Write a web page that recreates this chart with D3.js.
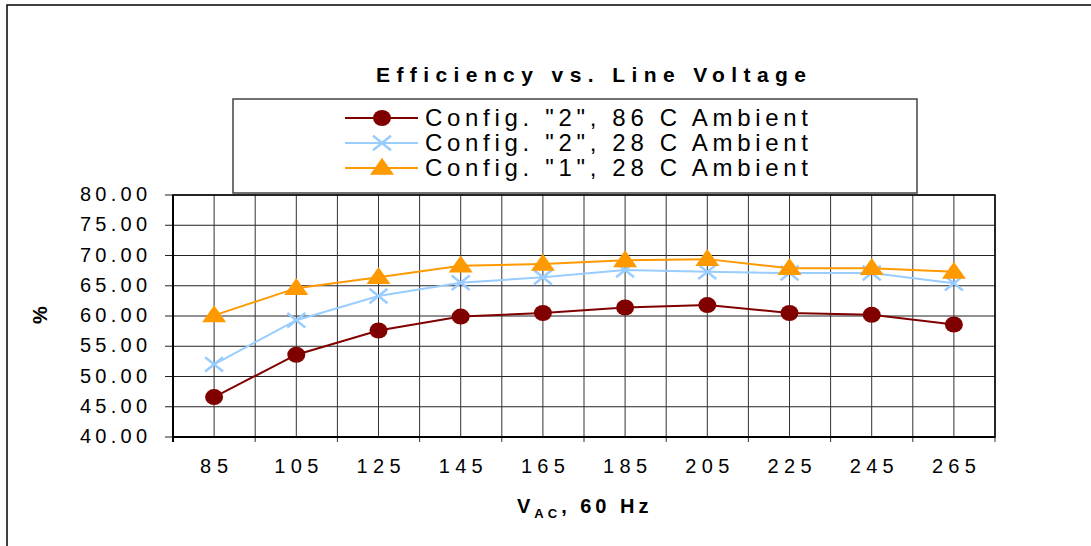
<!DOCTYPE html>
<html>
<head>
<meta charset="utf-8">
<script src="https://cdn.jsdelivr.net/npm/d3@7"></script>
<style>
  body { margin: 0; background: #fff; }
  svg { display: block; font-family: Arial, "Liberation Sans", sans-serif; }
</style>
</head>
<body>
<div id="chart"></div>
<script>
const voltages = ["85", "105", "125", "145", "165", "185", "205", "225", "245", "265"];
const cfg2Hot  = [46.6, 53.6, 57.6, 59.9, 60.5, 61.4, 61.8, 60.5, 60.2, 58.6];
const cfg2Room = [52.0, 59.3, 63.3, 65.5, 66.4, 67.6, 67.3, 67.1, 67.1, 65.4];
const cfg1Room = [60.1, 64.6, 66.4, 68.3, 68.6, 69.2, 69.4, 67.9, 67.9, 67.3];
const yTicks = [40, 45, 50, 55, 60, 65, 70, 75, 80];
const seriesNames = ['Config. "2", 86 C Ambient', 'Config. "2", 28 C Ambient', 'Config. "1", 28 C Ambient'];

const width = 1091, height = 546;
const plot = { left: 173, top: 195, right: 995, bottom: 437 };

const svg = d3.select("#chart").append("svg")
  .attr("width", width)
  .attr("height", height);

// outer frame (only top and left edges visible)
svg.append("rect")
  .attr("x", 7).attr("y", 5)
  .attr("width", 1300).attr("height", 1000)
  .attr("fill", "none").attr("stroke", "#000").attr("stroke-width", 1.5);

const x = d3.scaleBand().domain(voltages).range([plot.left, plot.right]);
const cx = d => x(d) + x.bandwidth() / 2;
const y = d3.scaleLinear().domain([40, 80]).range([plot.bottom, plot.top]);

const g = svg.append("g");

// horizontal grid
g.selectAll(".hgrid").data(yTicks).enter().append("line")
  .attr("x1", plot.left - 8).attr("x2", plot.right)
  .attr("y1", d => y(d)).attr("y2", d => y(d))
  .attr("stroke", "#222").attr("stroke-width", 1);

// vertical grid: category centres and band edges
const edges = voltages.map(v => x(v)).concat([plot.right]);
g.selectAll(".vedge").data(edges).enter().append("line")
  .attr("x1", d => d).attr("x2", d => d)
  .attr("y1", plot.top).attr("y2", plot.bottom + 5)
  .attr("stroke", "#333").attr("stroke-width", 1);
g.selectAll(".vmid").data(voltages).enter().append("line")
  .attr("x1", d => cx(d)).attr("x2", d => cx(d))
  .attr("y1", plot.top).attr("y2", plot.bottom)
  .attr("stroke", "#333").attr("stroke-width", 1);

// plot frame
g.append("rect")
  .attr("x", plot.left).attr("y", plot.top)
  .attr("width", plot.right - plot.left).attr("height", plot.bottom - plot.top)
  .attr("fill", "none").attr("stroke", "#000").attr("stroke-width", 1.5);
g.append("line")
  .attr("x1", plot.left).attr("x2", plot.left)
  .attr("y1", plot.top).attr("y2", plot.bottom + 5)
  .attr("stroke", "#000").attr("stroke-width", 2);
g.append("line")
  .attr("x1", plot.left).attr("x2", plot.right)
  .attr("y1", plot.bottom).attr("y2", plot.bottom)
  .attr("stroke", "#000").attr("stroke-width", 2);

// y tick labels
svg.selectAll(".ylab").data(yTicks).enter().append("text")
  .attr("x", 147).attr("y", d => y(d) + 6)
  .attr("text-anchor", "end")
  .attr("font-size", 20)
  .attr("textLength", 67).attr("lengthAdjust", "spacing")
  .attr("fill", "#000")
  .text(d => d.toFixed(2));

// x tick labels
svg.selectAll(".xlab").data(voltages).enter().append("text")
  .attr("x", d => cx(d)).attr("y", 473)
  .attr("text-anchor", "middle")
  .attr("font-size", 20)
  .attr("textLength", d => d.length === 2 ? 28 : 44).attr("lengthAdjust", "spacing")
  .attr("fill", "#000")
  .text(d => d);

// title
svg.append("text")
  .attr("x", 376).attr("y", 82)
  .attr("font-size", 21).attr("font-weight", "bold")
  .attr("textLength", 430).attr("lengthAdjust", "spacing")
  .text("Efficiency vs. Line Voltage");

// x axis title
const xt = svg.append("text")
  .attr("x", 517).attr("y", 513)
  .attr("font-size", 20).attr("font-weight", "bold")
  .style("letter-spacing", "4px");
xt.append("tspan").text("V");
xt.append("tspan").attr("font-size", 13).attr("dy", 5).text("AC");
xt.append("tspan").attr("dy", -5).text(", 60 Hz");

// y axis title
svg.append("text")
  .attr("transform", "translate(47,315) rotate(-90)")
  .attr("text-anchor", "middle")
  .attr("font-size", 20).attr("font-weight", "bold")
  .text("%");

// series
const series = [
  { name: seriesNames[0], values: cfg2Hot,  color: "#800000", marker: "circle" },
  { name: seriesNames[1], values: cfg2Room, color: "#99CCFF", marker: "cross" },
  { name: seriesNames[2], values: cfg1Room, color: "#FF9900", marker: "triangle" }
];

const line = d3.line().x(d => cx(d.v)).y(d => y(d.val));

function drawMarker(sel, s, px, py) {
  if (s.marker === "circle") {
    sel.append("ellipse").attr("cx", px).attr("cy", py).attr("rx", 9).attr("ry", 8)
      .attr("fill", s.color);
  } else if (s.marker === "cross") {
    const r = 9;
    sel.append("path")
      .attr("d", `M${px - r},${py - r * 0.8}L${px + r},${py + r * 0.8}M${px - r},${py + r * 0.8}L${px + r},${py - r * 0.8}`)
      .attr("stroke", s.color).attr("stroke-width", 2.5).attr("fill", "none");
  } else {
    const w = 12, h = 17;
    sel.append("path")
      .attr("d", `M${px},${py - h * 0.6}L${px + w},${py + h * 0.4}L${px - w},${py + h * 0.4}Z`)
      .attr("fill", s.color);
  }
}

series.forEach(s => {
  const pts = voltages.map((v, i) => ({ v: v, val: s.values[i] }));
  svg.append("path")
    .datum(pts)
    .attr("d", line)
    .attr("fill", "none").attr("stroke", s.color).attr("stroke-width", 2);
  const mg = svg.append("g");
  pts.forEach(p => drawMarker(mg, s, cx(p.v), y(p.val)));
});

// legend
const lg = svg.append("g");
lg.append("rect")
  .attr("x", 233).attr("y", 99)
  .attr("width", 684).attr("height", 94)
  .attr("fill", "#fff").attr("stroke", "#444").attr("stroke-width", 1.5);
series.forEach((s, i) => {
  const ly = 118 + i * 25;
  lg.append("line")
    .attr("x1", 345).attr("x2", 418).attr("y1", ly).attr("y2", ly)
    .attr("stroke", s.color).attr("stroke-width", 2);
  drawMarker(lg, s, 382, ly);
  lg.append("text")
    .attr("x", 425).attr("y", ly + 8)
    .attr("font-size", 24)
    .attr("textLength", 383).attr("lengthAdjust", "spacing")
    .text(s.name);
});
</script>
</body>
</html>
